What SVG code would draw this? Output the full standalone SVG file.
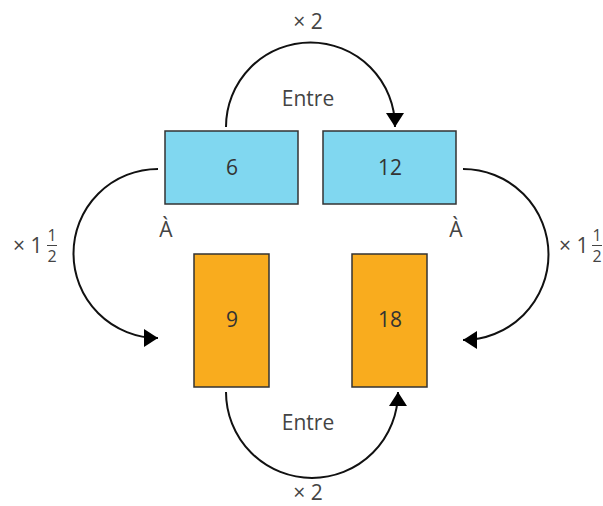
<svg xmlns="http://www.w3.org/2000/svg" width="603" height="506" viewBox="0 0 603 506">
<style>
.box{stroke:#333;stroke-width:1.5}
.blue{fill:#80d7f0}
.orange{fill:#f9ac1e}
.num{font-family:"Open Sans","Noto Sans",sans-serif;font-size:21px;fill:#333;text-anchor:middle}
.lbl{font-family:"Open Sans","Noto Sans",sans-serif;font-size:21px;fill:#444;text-anchor:middle}
.frac{font-family:"Open Sans","Noto Sans",sans-serif;font-size:16px;fill:#444;text-anchor:middle}
.arc{fill:none;stroke:#111;stroke-width:2}
</style>
<defs>
<marker id="ah" markerUnits="userSpaceOnUse" markerWidth="16" markerHeight="20" refX="14" refY="9" orient="auto" viewBox="0 0 16 20">
<path d="M0,0 L14,9 L0,18 z" fill="#000"/>
</marker>
</defs>
<g id="n6"><rect class="box blue" x="165" y="131" width="133" height="73"/><text class="num" x="232" y="175">6</text></g>
<g id="n12"><rect class="box blue" x="323" y="131" width="133" height="73"/><text class="num" x="390" y="175">12</text></g>
<g id="n9"><rect class="box orange" x="194" y="254" width="75" height="133"/><text class="num" x="232" y="327">9</text></g>
<g id="n18"><rect class="box orange" x="352" y="254" width="75" height="133"/><text class="num" x="390" y="327">18</text></g>
<g id="connectors">
<path class="arc" d="M226,127 A84.5,84.5 0 0 1 395,127" marker-end="url(#ah)"/>
<path class="arc" d="M226,392 A86,86 0 0 0 398,392" marker-end="url(#ah)"/>
<path class="arc" d="M158,169 A84.5,84.5 0 0 0 158,338" marker-end="url(#ah)"/>
<path class="arc" d="M463,169 A85.5,85.5 0 0 1 463,340" marker-end="url(#ah)"/>
</g>
<g id="labels">
<text class="lbl" x="308" y="29">× 2</text>
<text class="lbl" x="308" y="106">Entre</text>
<text class="lbl" x="308" y="430">Entre</text>
<text class="lbl" x="308" y="500">× 2</text>
<text class="lbl" x="166" y="237">À</text>
<text class="lbl" x="456" y="237">À</text>
<text class="lbl" x="13" y="253" style="text-anchor:start">× 1</text>
<text class="frac" x="52" y="241">1</text>
<line x1="47" y1="245.5" x2="57" y2="245.5" stroke="#444" stroke-width="1"/>
<text class="frac" x="52" y="262">2</text>
<text class="lbl" x="559" y="253" style="text-anchor:start">× 1</text>
<text class="frac" x="597" y="241">1</text>
<line x1="592" y1="245.5" x2="602" y2="245.5" stroke="#444" stroke-width="1"/>
<text class="frac" x="597" y="262">2</text>
</g>
</svg>
